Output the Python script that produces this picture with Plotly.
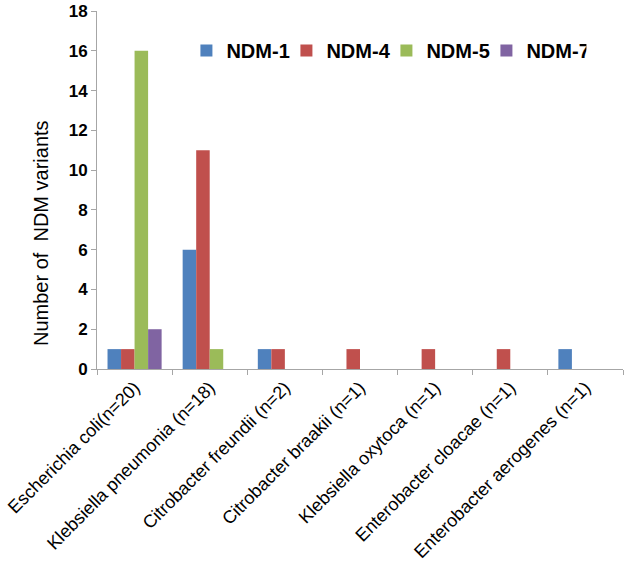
import plotly.graph_objects as go

categories = ["Escherichia coli(n=20)", "Klebsiella pneumonia (n=18)", "Citrobacter freundii (n=2)",
              "Citrobacter braakii (n=1)", "Klebsiella oxytoca (n=1)", "Enterobacter cloacae (n=1)",
              "Enterobacter aerogenes (n=1)"]
ndm1 = [1, 6, 1, 0, 0, 0, 1]
ndm4 = [1, 11, 1, 1, 1, 1, 0]
ndm5 = [16, 1, 0, 0, 0, 0, 0]
ndm7 = [2, 0, 0, 0, 0, 0, 0]
series_names = ["NDM-1", "NDM-4", "NDM-5", "NDM-7"]
colors = ["#4F81BD", "#C0504D", "#9BBB59", "#8064A2"]
y_title = "Number of  NDM variants"

fig = go.Figure()
for name, vals, col in zip(series_names, [ndm1, ndm4, ndm5, ndm7], colors):
    fig.add_trace(go.Bar(x=categories, y=vals, name=name, marker_color=col, marker_line_width=0))

fig.update_layout(
    width=630, height=573,
    margin=dict(l=97, r=7, t=11, b=204, autoexpand=False),
    paper_bgcolor="white", plot_bgcolor="white",
    barmode="group", bargap=0.28, bargroupgap=0,
    font=dict(family="Liberation Sans, Arial, sans-serif", color="black"),
    legend=dict(orientation="h", x=0.17, y=0.89, xanchor="left", yanchor="middle",
                font=dict(size=20, family="Liberation Sans, Arial, sans-serif", weight="bold"),
                bgcolor="rgba(0,0,0,0)", tracegroupgap=0, itemwidth=30,
                entrywidth=55, entrywidthmode="pixels"),
    showlegend=True,
)
fig.add_annotation(text=y_title, textangle=-90, xref="paper", yref="paper",
                   x=(41 - 97) / 526, y=(369 - 233) / 358, xanchor="center", yanchor="middle",
                   showarrow=False, font=dict(size=20))
fig.update_xaxes(
    automargin=False,
    tickangle=-45, tickfont=dict(size=18), showline=True, linecolor="#a6a6a6", linewidth=1,
    ticks="outside", tickson="boundaries", ticklen=5, tickcolor="#a6a6a6", showgrid=False,
)
fig.update_yaxes(
    automargin=False,
    range=[0, 18], dtick=2, showline=True, linecolor="#a6a6a6", linewidth=1,
    ticks="outside", ticklen=5, tickcolor="#a6a6a6", showgrid=False, zeroline=False,
    tickfont=dict(size=17, weight="bold"),
)
fig.write_html("out.html", post_script="document.body.style.margin='0';",
               config={"displayModeBar": False})
